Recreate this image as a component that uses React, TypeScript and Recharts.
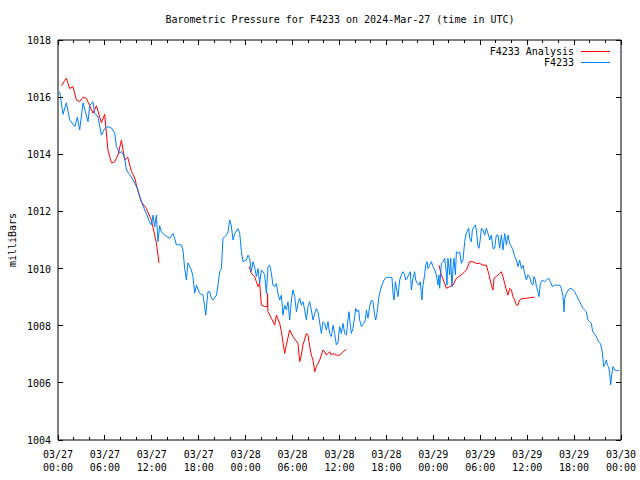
import React from 'react';
import { LineChart, Line, XAxis, YAxis } from 'recharts';

// hours since 2024-03-27 00:00 UTC, pressure in mb
const stationObs: [number, number][] = [
  [0.22, 1016.19], [0.64, 1015.4], [1.07, 1015.8], [1.5, 1015.2], [2.14, 1014.97],
  [2.48, 1015.3], [2.77, 1014.85], [3.2, 1015.8], [3.84, 1015.14], [4.05, 1015.7],
  [4.48, 1015.84], [4.69, 1015.44], [5.12, 1015.3], [5.55, 1014.67], [5.97, 1014.9],
  [6.39, 1014.97], [6.83, 1014.92], [7.25, 1014.75], [7.47, 1014.27], [7.89, 1014.04],
  [8.11, 1014.1], [8.53, 1013.87], [8.75, 1013.45], [9.39, 1013.2], [9.81, 1013.0],
  [10.23, 1012.75], [10.66, 1012.34], [11.09, 1012.05], [11.3, 1011.93], [11.73, 1011.6],
  [11.94, 1011.53], [12.15, 1011.87], [12.37, 1011.46], [12.58, 1011.87], [12.79, 1010.94],
  [13.0, 1011.5], [13.22, 1011.29], [13.64, 1011.17], [14.07, 1011.1], [14.28, 1011.06],
  [14.71, 1011.23], [14.92, 1011.06], [15.14, 1010.83], [15.78, 1010.83], [15.98, 1010.65],
  [16.2, 1010.0], [16.42, 1009.6], [16.62, 1010.2], [17.06, 1009.95], [17.26, 1009.72],
  [17.48, 1009.14], [17.7, 1009.42], [18.12, 1009.13], [18.54, 1009.07], [18.76, 1008.67],
  [18.89, 1008.37], [19.18, 1009.19], [19.4, 1009.19], [19.62, 1008.96], [19.82, 1008.9],
  [20.26, 1009.07], [20.46, 1009.42], [20.68, 1009.9], [20.9, 1010.0], [21.1, 1011.06],
  [21.53, 1011.17], [21.74, 1011.29], [21.96, 1011.7], [22.17, 1011.5], [22.38, 1011.0],
  [22.6, 1011.23], [23.02, 1011.4], [23.24, 1011.23], [23.45, 1010.59], [23.66, 1010.24],
  [24.09, 1010.3], [24.3, 1010.47], [24.51, 1010.36], [24.73, 1009.9], [24.94, 1010.24],
  [25.15, 1010.05], [25.37, 1009.72], [25.58, 1010.0], [25.79, 1009.48], [26.01, 1009.95],
  [26.21, 1009.89], [26.43, 1009.78], [26.65, 1009.13], [26.85, 1010.07], [27.07, 1010.12],
  [27.29, 1009.83], [27.49, 1009.42], [27.71, 1009.37], [27.93, 1009.48], [28.13, 1009.13],
  [28.35, 1008.9], [28.57, 1009.07], [28.77, 1008.37], [28.99, 1008.72], [29.21, 1008.55],
  [29.41, 1008.84], [29.63, 1008.2], [29.85, 1008.9], [30.05, 1009.25], [30.27, 1009.02],
  [30.49, 1008.49], [30.69, 1008.78], [30.91, 1008.96], [31.12, 1008.72], [31.33, 1008.84],
  [31.55, 1008.55], [31.77, 1008.2], [31.97, 1008.67], [32.19, 1008.84], [32.4, 1008.55],
  [32.61, 1008.2], [32.83, 1008.43], [33.04, 1008.6], [33.25, 1008.49], [33.68, 1007.73],
  [33.89, 1008.14], [34.11, 1008.08], [34.32, 1007.85], [34.53, 1008.14], [34.74, 1007.73],
  [34.96, 1007.62], [35.17, 1008.02], [35.38, 1007.73], [35.6, 1007.33], [35.81, 1007.4],
  [36.02, 1007.97], [36.24, 1007.73], [36.45, 1008.08], [36.66, 1007.73], [36.88, 1007.67],
  [37.08, 1008.2], [37.21, 1008.49], [37.39, 1008.02], [37.51, 1007.73], [37.72, 1007.9],
  [37.94, 1008.31], [38.07, 1008.61], [38.24, 1008.49], [38.45, 1008.55], [38.58, 1008.2],
  [38.8, 1007.97], [39.09, 1008.08], [39.31, 1008.2], [39.44, 1008.55], [39.64, 1008.26],
  [39.86, 1008.67], [40.08, 1008.9], [40.28, 1008.84], [40.5, 1008.37], [40.63, 1008.2],
  [40.79, 1008.43], [41.05, 1009.02], [41.23, 1009.25], [41.43, 1009.42], [41.69, 1009.6],
  [42.0, 1009.69], [42.42, 1009.69], [42.71, 1009.69], [42.84, 1009.13], [42.97, 1008.9],
  [43.15, 1009.54], [43.35, 1009.19], [43.48, 1009.02], [43.7, 1009.6], [43.91, 1009.78],
  [44.12, 1009.89], [44.34, 1009.78], [44.46, 1009.6], [44.63, 1009.66], [44.85, 1009.78],
  [45.06, 1009.89], [45.19, 1009.25], [45.4, 1009.66], [45.61, 1009.89], [45.74, 1009.6],
  [45.96, 1009.48], [46.16, 1009.42], [46.34, 1009.54], [46.47, 1009.07], [46.55, 1008.9],
  [46.68, 1009.42], [46.89, 1009.78], [47.02, 1010.12], [47.19, 1010.24], [47.31, 1010.0],
  [47.53, 1010.12], [47.75, 1010.24], [47.95, 1010.07], [48.17, 1009.95], [48.38, 1009.78],
  [48.59, 1009.42], [48.72, 1009.78], [48.81, 1009.31], [49.03, 1010.18], [49.23, 1010.24],
  [49.45, 1010.36], [49.67, 1009.83], [49.74, 1009.42], [49.87, 1010.36], [50.09, 1009.78],
  [50.22, 1010.36], [50.38, 1009.37], [50.51, 1009.95], [50.64, 1010.36], [50.82, 1009.78],
  [50.95, 1010.59], [51.15, 1010.53], [51.37, 1010.59], [51.59, 1010.18], [51.79, 1010.3],
  [52.01, 1010.94], [52.14, 1011.17], [52.3, 1011.29], [52.52, 1011.41], [52.65, 1011.06],
  [52.86, 1010.94], [52.99, 1011.35], [53.2, 1011.46], [53.38, 1011.53], [53.5, 1011.35],
  [53.71, 1010.77], [53.84, 1010.71], [54.02, 1011.06], [54.14, 1011.41], [54.35, 1011.35],
  [54.57, 1011.17], [54.78, 1011.41], [54.99, 1011.23], [55.21, 1011.0], [55.42, 1011.17],
  [55.63, 1010.71], [55.84, 1010.71], [56.06, 1011.17], [56.27, 1011.17], [56.48, 1010.71],
  [56.7, 1011.17], [56.91, 1010.65], [57.12, 1011.23], [57.34, 1010.83], [57.54, 1011.17],
  [57.76, 1010.88], [57.98, 1010.77], [58.18, 1010.65], [58.4, 1010.42], [58.62, 1010.3],
  [58.82, 1010.07], [59.04, 1010.3], [59.26, 1010.0], [59.46, 1010.12], [59.68, 1009.83],
  [59.9, 1009.6], [60.1, 1009.78], [60.32, 1009.7], [60.54, 1009.48], [60.74, 1009.42],
  [60.87, 1009.72], [61.05, 1009.6], [61.18, 1009.37], [61.38, 1009.19], [61.51, 1009.02],
  [61.69, 1009.48], [61.94, 1009.6], [62.24, 1009.54], [62.46, 1009.6], [62.75, 1009.66],
  [62.97, 1009.54], [63.22, 1009.37], [63.52, 1009.42], [63.94, 1009.42], [64.16, 1009.42],
  [64.37, 1009.31], [64.58, 1009.02], [64.67, 1008.72], [64.71, 1008.49], [64.8, 1008.96],
  [65.01, 1009.13], [65.35, 1009.28], [65.65, 1009.31], [65.86, 1009.25], [66.07, 1009.19],
  [66.29, 1009.07], [66.5, 1008.96], [66.71, 1008.84], [66.93, 1008.72], [67.14, 1008.61],
  [67.35, 1008.55], [67.57, 1008.49], [67.77, 1008.2], [67.99, 1008.14], [68.21, 1008.08],
  [68.34, 1007.85], [68.5, 1007.73], [68.76, 1007.67], [68.93, 1007.56], [69.14, 1007.44],
  [69.36, 1007.38], [69.57, 1007.15], [69.69, 1006.86], [69.78, 1006.57], [70.0, 1006.68],
  [70.13, 1006.8], [70.26, 1006.62], [70.42, 1006.57], [70.55, 1006.33], [70.68, 1005.93],
  [70.81, 1006.28], [70.97, 1006.57], [71.19, 1006.45], [71.41, 1006.43], [71.75, 1006.43],
];

const analysisRun1: [number, number][] = [
  [0.47, 1016.4], [0.77, 1016.54], [1.07, 1016.66], [1.5, 1016.3], [1.92, 1016.37],
  [2.35, 1015.9], [2.77, 1015.84], [3.2, 1016.0], [3.63, 1015.96], [4.05, 1015.7],
  [4.48, 1015.44], [4.91, 1015.7], [5.55, 1015.1], [5.97, 1015.4], [6.39, 1014.15],
  [6.83, 1013.7], [7.25, 1013.74], [7.67, 1013.97], [8.11, 1014.5], [8.53, 1013.8],
  [8.91, 1013.9], [9.39, 1013.4], [9.81, 1013.17], [10.23, 1012.7], [10.66, 1012.34],
  [11.3, 1012.1], [11.94, 1011.7], [12.58, 1010.9], [12.92, 1010.2],
];

const analysisRun2: [number, number][] = [
  [24.45, 1010.07], [24.73, 1009.83], [25.15, 1009.72], [25.37, 1009.54], [25.58, 1009.37],
  [25.79, 1009.48], [26.01, 1008.72], [26.43, 1008.67], [26.77, 1008.67], [26.8, 1009.13],
  [26.85, 1008.49], [27.29, 1008.26], [27.71, 1008.02], [27.93, 1008.37], [28.35, 1008.08],
  [28.57, 1007.79], [28.99, 1007.03], [29.21, 1007.33], [29.63, 1007.85], [30.05, 1007.62],
  [30.69, 1007.38], [30.91, 1006.74], [31.12, 1006.97], [31.33, 1007.33], [31.77, 1007.73],
  [31.97, 1007.67], [32.19, 1007.27], [32.4, 1006.97], [32.61, 1006.8], [32.83, 1006.39],
  [33.04, 1006.57], [33.47, 1006.8], [33.89, 1007.15], [34.11, 1007.09], [34.32, 1006.97],
  [34.53, 1007.03], [34.74, 1007.09], [34.96, 1006.97], [35.17, 1007.03], [35.6, 1006.97],
  [36.02, 1006.97], [36.45, 1007.09], [36.88, 1007.17],
];

const analysisRun3: [number, number][] = [
  [48.72, 1010.12], [49.03, 1009.78], [49.45, 1009.48], [49.67, 1009.31], [50.09, 1009.37],
  [50.51, 1009.42], [50.95, 1009.66], [51.37, 1009.74], [51.79, 1009.83], [52.23, 1009.95],
  [52.65, 1010.24], [53.08, 1010.24], [53.5, 1010.18], [53.93, 1010.18], [54.35, 1010.12],
  [54.78, 1010.12], [55.12, 1009.78], [55.42, 1009.42], [55.63, 1009.25], [55.76, 1009.66],
  [56.06, 1009.72], [56.48, 1009.83], [56.7, 1009.89], [56.91, 1009.72], [57.12, 1009.48],
  [57.34, 1009.25], [57.54, 1009.07], [57.76, 1009.31], [57.98, 1009.25], [58.18, 1009.02],
  [58.4, 1008.9], [58.62, 1008.72], [58.82, 1008.72], [59.04, 1008.9], [59.46, 1008.96],
  [59.9, 1008.96], [60.32, 1008.98], [60.96, 1009.0],
];

const pressureTicks = [1004, 1006, 1008, 1010, 1012, 1014, 1016, 1018];
const majorHours = [0, 6, 12, 18, 24, 30, 36, 42, 48, 54, 60, 66, 72];
const tickDates = ['03/27', '03/27', '03/27', '03/27', '03/28', '03/28', '03/28', '03/28', '03/29', '03/29', '03/29', '03/29', '03/30'];
const tickTimes = ['00:00', '06:00', '12:00', '18:00', '00:00', '06:00', '12:00', '18:00', '00:00', '06:00', '12:00', '18:00', '00:00'];
const hourTicks = Array.from({ length: 37 }, (_, i) => i * 2);

const FONT = '"DejaVu Sans Mono", monospace';
const RED = '#ff0000';
const BLUE = '#0080ff';

const toRows = (pts: [number, number][]) => pts.map(([t, p]) => ({ t, p }));
const obsRows = toRows(stationObs);
// runs separated by a null so the line breaks between them
const analysisRows = [
  ...toRows(analysisRun1),
  { t: 18, p: null },
  ...toRows(analysisRun2),
  { t: 42, p: null },
  ...toRows(analysisRun3),
];

const BottomTick = (props: any) => {
  const { x, y, payload } = props;
  const idx = majorHours.indexOf(payload.value);
  const major = idx >= 0;
  return (
    <g>
      <line x1={x} y1={y} x2={x} y2={y - (major ? 5 : 3)} stroke="#000" shapeRendering="crispEdges" />
      {major && (
        <text textAnchor="middle" fontFamily={FONT} fontSize={10} fill="#000">
          <tspan x={x} y={y + 18}>{tickDates[idx]}</tspan>
          <tspan x={x} y={y + 31}>{tickTimes[idx]}</tspan>
        </text>
      )}
    </g>
  );
};

const TopTick = (props: any) => {
  const { x, y, payload } = props;
  const major = majorHours.includes(payload.value);
  return <line x1={x} y1={y} x2={x} y2={y + (major ? 5 : 3)} stroke="#000" shapeRendering="crispEdges" />;
};

const LeftTick = (props: any) => {
  const { x, y, payload } = props;
  return (
    <g>
      <line x1={x} y1={y} x2={x + 5} y2={y} stroke="#000" shapeRendering="crispEdges" />
      <text x={x - 7} y={y + 4} textAnchor="end" fontFamily={FONT} fontSize={10} fill="#000">
        {payload.value}
      </text>
    </g>
  );
};

const RightTick = (props: any) => {
  const { x, y } = props;
  return <line x1={x} y1={y} x2={x - 5} y2={y} stroke="#000" shapeRendering="crispEdges" />;
};

export default function App() {
  return (
    <div style={{ position: 'absolute', left: 0, top: 0, width: 640, height: 480, background: '#fff' }}>
      <LineChart width={640} height={480} margin={{ top: 39, right: 18, bottom: 0, left: 0 }}>
        <XAxis
          xAxisId="bottom"
          dataKey="t"
          type="number"
          domain={[0, 72]}
          ticks={hourTicks}
          interval={0}
          height={40}
          tickSize={0}
          tickMargin={0}
          tickLine={false}
          tick={<BottomTick />}
          stroke="#000"
          allowDataOverflow
        />
        <XAxis
          xAxisId="top"
          orientation="top"
          dataKey="t"
          type="number"
          domain={[0, 72]}
          ticks={hourTicks}
          interval={0}
          height={1}
          tickSize={0}
          tickMargin={0}
          tickLine={false}
          tick={<TopTick />}
          stroke="#000"
          allowDataOverflow
        />
        <YAxis
          yAxisId="left"
          type="number"
          domain={[1004, 1018]}
          ticks={pressureTicks}
          interval={0}
          width={58}
          tickSize={0}
          tickMargin={0}
          tickLine={false}
          tick={<LeftTick />}
          stroke="#000"
          allowDataOverflow
        />
        <YAxis
          yAxisId="right"
          orientation="right"
          type="number"
          domain={[1004, 1018]}
          ticks={pressureTicks}
          interval={0}
          width={1}
          tickSize={0}
          tickMargin={0}
          tickLine={false}
          tick={<RightTick />}
          stroke="#000"
          allowDataOverflow
        />
        {/* invisible copy so the mirrored top/right frame axes get drawn */}
        <Line
          xAxisId="top"
          yAxisId="right"
          data={obsRows}
          dataKey="p"
          stroke="none"
          dot={false}
          activeDot={false}
          legendType="none"
          isAnimationActive={false}
        />
        <Line
          xAxisId="bottom"
          yAxisId="left"
          data={analysisRows}
          dataKey="p"
          name="F4233 Analysis"
          stroke={RED}
          strokeWidth={1}
          dot={false}
          activeDot={false}
          type="linear"
          isAnimationActive={false}
        />
        <Line
          xAxisId="bottom"
          yAxisId="left"
          data={obsRows}
          dataKey="p"
          name="F4233"
          stroke={BLUE}
          strokeWidth={1}
          dot={false}
          activeDot={false}
          type="linear"
          isAnimationActive={false}
        />
      </LineChart>
      <svg width={640} height={480} style={{ position: 'absolute', left: 0, top: 0, pointerEvents: 'none' }}>
        <text x={340} y={23} textAnchor="middle" fontFamily={FONT} fontSize={10} fill="#000">
          Barometric Pressure for F4233 on 2024-Mar-27 (time in UTC)
        </text>
        <text x={16} y={240} textAnchor="middle" fontFamily={FONT} fontSize={10} fill="#000" transform="rotate(-90 16 240)">
          milliBars
        </text>
        <text x={574} y={55} textAnchor="end" fontFamily={FONT} fontSize={10} fill="#000">F4233 Analysis</text>
        <line x1={581} y1={51.5} x2={610} y2={51.5} stroke={RED} />
        <text x={574} y={66} textAnchor="end" fontFamily={FONT} fontSize={10} fill="#000">F4233</text>
        <line x1={581} y1={62.5} x2={610} y2={62.5} stroke={BLUE} />
      </svg>
    </div>
  );
}
